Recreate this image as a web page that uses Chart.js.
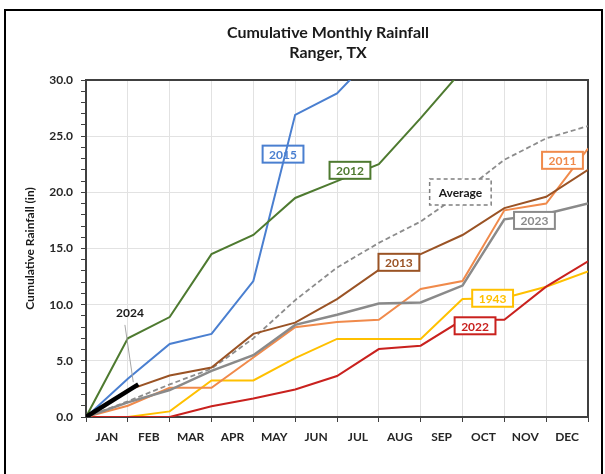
<!DOCTYPE html>
<html>
<head>
<meta charset="utf-8">
<script src="https://cdn.jsdelivr.net/npm/chart.js@4.4.1/dist/chart.umd.min.js"></script>
<style>
  html, body { margin: 0; padding: 0; background: #fff; }
  #wrap { position: relative; width: 605px; height: 474px; }
  #frame { position: absolute; left: 4px; top: 9px; width: 595px; height: 480px; border: 2px solid #000; pointer-events: none; }
</style>
</head>
<body>
<div id="wrap">
  <canvas id="myChart"></canvas>
  <div id="frame"></div>
</div>
<script>
// cumulative rainfall, inches, at the end of each month (index 0 = start of year)
var months = ['JAN', 'FEB', 'MAR', 'APR', 'MAY', 'JUN', 'JUL', 'AUG', 'SEP', 'OCT', 'NOV', 'DEC'];
var yTicks = [0, 5, 10, 15, 20, 25, 30];

var avg   = [0, 1.4, 2.9, 4.3, 7.0, 10.4, 13.3, 15.5, 17.4, 20.0, 22.9, 24.8, 25.9];
var y2012 = [0, 7.0, 8.9, 14.5, 16.2, 19.5, 21.0, 22.5, 26.6, 30.9];
var y2015 = [0, 3.4, 6.5, 7.4, 12.1, 26.9, 28.8, 32.7];
var y2013 = [0, 2.4, 3.7, 4.4, 7.4, 8.4, 10.5, 13.1, 14.5, 16.2, 18.6, 19.6, 22.0];
var y2011 = [0, 1.0, 2.6, 2.6, 5.3, 8.0, 8.45, 8.65, 11.4, 12.1, 18.4, 19.0, 23.9];
var y2023 = [0, 1.3, 2.4, 4.1, 5.5, 8.2, 9.1, 10.1, 10.2, 11.7, 17.6, 18.1, 19.0];
var y1943 = [0, 0, 0.5, 3.25, 3.25, 5.25, 6.95, 6.95, 6.95, 10.5, 10.6, 11.6, 12.95];
var y2022 = [0, 0, 0, 0.95, 1.65, 2.45, 3.65, 6.05, 6.35, 8.65, 8.65, 11.6, 13.85];
// 2024 so far: partial month
var x2024 = [0, 1.25];
var y2024 = [0, 2.9];

function pts(vals, xs) {
  return vals.map(function (v, i) { return { x: xs ? xs[i] : i, y: v }; });
}

// label boxes (position in month / inch units)
var tags = [
  { text: '2015', x: 4.71, y: 23.4, color: '#4a7fd0', under: true },
  { text: '2012', x: 6.31, y: 21.96, color: '#4e7a30' },
  { text: '2013', x: 7.48, y: 13.77, color: '#9a5325' },
  { text: 'Average', x: 8.95, y: 20.04, color: '#7f7f7f', dashed: true },
  { text: '2011', x: 11.39, y: 22.85, color: '#f08a4b' },
  { text: '2023', x: 10.72, y: 17.5, color: '#8a8a8a' },
  { text: '1943', x: 9.72, y: 10.57, color: '#ffc000' },
  { text: '2022', x: 9.30, y: 8.12, color: '#c9211e' }
];

Chart.defaults.font.family = 'Lato, "Liberation Sans", sans-serif';
Chart.defaults.font.weight = 'bold';
Chart.defaults.font.size = 12;
Chart.defaults.color = '#262626';

function drawTag(ctx, chart, t) {
  var sx = chart.scales.x, sy = chart.scales.y;
  var cx = sx.getPixelForValue(t.x), cy = sy.getPixelForValue(t.y);
  ctx.save();
  ctx.font = 'bold 12px Lato, "Liberation Sans", sans-serif';
  var w = ctx.measureText(t.text).width + (t.dashed ? 18 : 13);
  var h = t.dashed ? 26 : 17;
  ctx.fillStyle = '#fff';
  ctx.fillRect(cx - w / 2, cy - h / 2, w, h);
  ctx.lineWidth = t.dashed ? 1.5 : 2;
  ctx.strokeStyle = t.color;
  if (t.dashed) ctx.setLineDash([4, 3]);
  ctx.strokeRect(cx - w / 2, cy - h / 2, w, h);
  ctx.setLineDash([]);
  ctx.fillStyle = t.dashed ? '#1a1a1a' : t.color;
  ctx.textAlign = 'center';
  ctx.textBaseline = 'middle';
  ctx.fillText(t.text, cx, cy + 1);
  ctx.restore();
}

var decor = {
  id: 'decor',
  beforeDatasetsDraw: function (chart) {
    var ctx = chart.ctx, a = chart.chartArea;
    // plot frame under the lines, so zero-valued runs stay visible
    ctx.save();
    ctx.strokeStyle = '#404040';
    ctx.lineWidth = 2;
    ctx.strokeRect(a.left, a.top, a.right - a.left, a.bottom - a.top);
    ctx.restore();
    tags.forEach(function (t) { if (t.under) drawTag(ctx, chart, t); });
  },
  afterDatasetsDraw: function (chart) {
    var ctx = chart.ctx, sx = chart.scales.x, sy = chart.scales.y;
    tags.forEach(function (t) { if (!t.under) drawTag(ctx, chart, t); });
    // 2024 callout
    ctx.save();
    ctx.strokeStyle = '#a6a6a6';
    ctx.lineWidth = 1;
    ctx.beginPath();
    ctx.moveTo(sx.getPixelForValue(0.93), sy.getPixelForValue(8.2));
    ctx.lineTo(sx.getPixelForValue(1.13), sy.getPixelForValue(3.1));
    ctx.stroke();
    ctx.font = 'bold 12px Lato, "Liberation Sans", sans-serif';
    ctx.fillStyle = '#1a1a1a';
    ctx.textAlign = 'center';
    ctx.textBaseline = 'middle';
    ctx.fillText('2024', sx.getPixelForValue(1.05), sy.getPixelForValue(9.28));
    ctx.restore();
  },
  afterDraw: function (chart) {
    var ctx = chart.ctx;
    ctx.save();
    ctx.font = 'bold 16px Lato, "Liberation Sans", sans-serif';
    ctx.fillStyle = '#1a1a1a';
    ctx.textAlign = 'center';
    ctx.textBaseline = 'middle';
    ctx.fillText('Cumulative Monthly Rainfall', 328, 33);
    ctx.fillText('Ranger, TX', 328, 53);
    ctx.restore();
  }
};

function line(label, data, color, width, dash) {
  return {
    label: label,
    data: data,
    borderColor: color,
    backgroundColor: color,
    borderWidth: width,
    borderDash: dash || [],
    pointRadius: 0,
    fill: false,
    tension: 0
  };
}

var ctx = document.getElementById('myChart');

new Chart(ctx, {
  type: 'line',
  data: {
    datasets: [
      line('2024', pts(y2024, x2024), '#000000', 4.5),
      line('2012', pts(y2012), '#4e7a30', 2),
      line('2015', pts(y2015), '#4a7fd0', 2),
      line('2013', pts(y2013), '#9a5325', 2),
      line('2023', pts(y2023), '#8a8a8a', 2.5),
      line('Average', pts(avg), '#8c8c8c', 1.8, [5, 3]),
      line('2011', pts(y2011), '#f08a4b', 2),
      line('2022', pts(y2022), '#c9211e', 2),
      line('1943', pts(y1943), '#ffc000', 2)
    ]
  },
  options: {
    responsive: true,
    maintainAspectRatio: false,
    animation: false,
    layout: { padding: { top: 80, right: 17, left: 0, bottom: 0 } },
    plugins: {
      legend: { display: false },
      tooltip: { enabled: false }
    },
    scales: {
      x: {
        type: 'linear',
        min: 0,
        max: 12,
        weight: 0,
        afterFit: function (s) { s.height = 5; },
        ticks: { display: false, stepSize: 1 },
        grid: { color: '#e2e2e2', tickColor: '#404040', tickLength: 5 },
        border: { color: '#404040', width: 2 }
      },
      xm: {
        type: 'category',
        position: 'bottom',
        labels: months,
        offset: true,
        weight: 1,
        afterFit: function (s) { s.height = 52; },
        grid: { display: false, drawTicks: false },
        border: { display: false },
        ticks: { padding: 8, maxRotation: 0, color: '#262626' }
      },
      y: {
        min: 0,
        max: 30,
        afterFit: function (s) { s.width = 86; },
        ticks: {
          stepSize: 1,
          autoSkip: false,
          padding: 8,
          color: '#262626',
          callback: function (v) { return yTicks.indexOf(v) >= 0 ? v.toFixed(1) : ''; }
        },
        grid: {
          color: function (c) { return c.tick && c.tick.value % 5 === 0 ? '#e2e2e2' : 'rgba(0,0,0,0)'; },
          tickColor: '#404040',
          tickLength: 5
        },
        border: { color: '#404040', width: 2 },
        title: {
          display: true,
          text: 'Cumulative Rainfall (in)',
          padding: { top: 23, bottom: 0 },
          font: { size: 12, weight: 'bold' },
          color: '#1a1a1a'
        }
      }
    }
  },
  plugins: [decor]
});
</script>
</body>
</html>
